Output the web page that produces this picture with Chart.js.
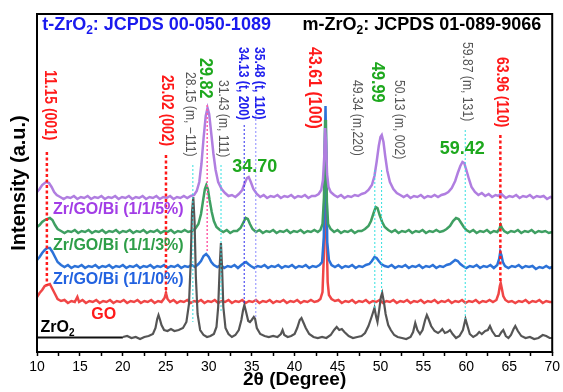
<!DOCTYPE html>
<html>
<head>
<meta charset="utf-8">
<script src="https://cdn.jsdelivr.net/npm/chart.js@4.4.1/dist/chart.umd.min.js"></script>
<style>
  body { margin: 0; background: #fff; }
  #wrap { width: 563px; height: 392px; }
</style>
</head>
<body>
<div id="wrap"><canvas id="xrd" width="563" height="392"></canvas></div>
<script>
// 2theta (deg) vs intensity (a.u., traces already stacked)
const zro2Pad = [[10, 14.5], [20, 14.5]];
const zro2 = [[20,15],[20.5,16],[21,14],[21.5,15],[22,13],[22.5,15],[23,16],[23.5,18],[23.8,24],[24,33],[24.15,37],[24.3,33],[24.5,27],[24.8,22],[25.2,21],[25.6,23],[26,21],[26.5,22],[27,24],[27.4,30],[27.7,48],[27.9,90],[28.05,140],[28.2,155],[28.35,130],[28.5,75],[28.7,38],[29,22],[29.4,17],[29.8,15],[30.2,16],[30.6,18],[30.9,25],[31.1,45],[31.3,90],[31.42,109],[31.55,85],[31.7,45],[31.95,24],[32.3,18],[32.7,15],[33.1,17],[33.5,22],[33.8,32],[34,42],[34.15,47],[34.35,40],[34.6,31],[34.8,30],[35,32],[35.25,35],[35.4,33],[35.6,24],[36,18],[36.5,16],[37,15],[37.5,16],[38,15],[38.4,18],[38.6,22],[38.8,17],[39.2,15],[39.6,16],[40,18],[40.3,24],[40.6,32],[40.8,34],[41,30],[41.3,24],[41.7,18],[42.2,15],[42.7,14],[43.2,15],[43.7,14],[44.2,17],[44.6,22],[44.9,25],[45.2,22],[45.5,23],[45.8,20],[46.3,16],[46.8,14],[47.3,15],[47.8,16],[48.2,19],[48.6,26],[49,36],[49.3,44],[49.5,35],[49.65,30],[49.85,42],[50.05,55],[50.2,59],[50.4,50],[50.6,38],[50.9,27],[51.2,22],[51.6,17],[52,15],[52.5,14],[53,13],[53.5,15],[53.8,20],[54.05,29],[54.3,22],[54.6,18],[54.9,22],[55.2,32],[55.4,37],[55.6,33],[55.9,26],[56.3,21],[56.7,19],[57,21],[57.2,23],[57.5,19],[57.8,20],[58.1,22],[58.4,18],[58.8,14],[59.2,16],[59.6,22],[59.9,33],[60.1,27],[60.4,18],[60.8,15],[61.2,17],[61.5,20],[61.8,18],[62.2,21],[62.5,22],[62.75,26],[63,21],[63.4,16],[63.8,16],[64.1,20],[64.3,22],[64.6,16],[64.9,14],[65.2,17],[65.5,23],[65.7,26],[66,21],[66.4,16],[66.9,14],[67.4,15],[67.9,13],[68.4,14],[68.9,17],[69.3,16],[69.7,14],[70,14]];
const go = [[10,55],[10.3,59],[10.6,62],[10.9,66],[11.2,67],[11.5,68],[11.8,63],[12.1,58],[12.4,53],[12.8,51],[13.2,52],[13.6,49],[14,51],[14.4,50],[14.7,55],[14.9,50],[15.3,52],[15.7,49],[16.1,51],[16.5,50],[16.9,52],[17.3,49],[17.7,51],[18.1,50],[18.5,52],[18.9,49],[19.3,51],[19.7,50],[20.1,52],[20.5,49],[20.9,51],[21.3,50],[21.7,52],[22.1,49],[22.5,51],[22.9,50],[23.3,52],[23.7,49],[24.1,51],[24.5,50],[24.85,54],[25.02,59],[25.2,53],[25.5,50],[25.9,52],[26.3,49],[26.7,51],[27.1,50],[27.5,52],[27.9,49],[28.3,51],[28.7,50],[29.1,52],[29.5,49],[29.9,51],[30.3,50],[30.7,52],[31.1,49],[31.5,51],[31.9,50],[32.3,52],[32.7,49],[33.1,51],[33.5,50],[33.9,52],[34.3,49],[34.7,51],[35.1,50],[35.5,52],[35.9,49],[36.3,51],[36.7,50],[37.1,52],[37.5,49],[37.9,51],[38.3,50],[38.7,52],[39.1,49],[39.5,51],[39.9,50],[40.3,52],[40.7,49],[41.1,51],[41.5,50],[41.9,52],[42.3,50],[42.7,51],[43,53],[43.25,60],[43.42,100],[43.55,175],[43.62,180],[43.72,120],[43.85,70],[44,57],[44.3,53],[44.7,51],[45.1,52],[45.5,49],[45.9,51],[46.3,50],[46.7,52],[47.1,49],[47.5,51],[47.9,50],[48.3,52],[48.7,49],[49.1,51],[49.5,50],[49.9,52],[50.3,49],[50.7,51],[51.1,50],[51.5,52],[51.9,49],[52.3,51],[52.7,50],[53.1,52],[53.5,49],[53.9,51],[54.3,50],[54.7,52],[55.1,49],[55.5,51],[55.9,50],[56.3,52],[56.7,49],[57.1,51],[57.5,50],[57.9,52],[58.3,49],[58.7,51],[59.1,50],[59.5,52],[59.9,49],[60.3,51],[60.7,50],[61.1,52],[61.5,49],[61.9,51],[62.3,50],[62.7,52],[63.1,50],[63.5,52],[63.75,58],[63.9,66],[64,69],[64.12,64],[64.3,56],[64.55,52],[64.9,50],[65.3,51],[65.7,49],[66.1,51],[66.5,50],[66.9,52],[67.3,49],[67.7,51],[68.1,50],[68.5,52],[68.9,49],[69.3,51],[69.7,50],[70,50]];
const bi0 = [[10,92],[10.3,95],[10.6,99],[10.9,102],[11.2,104],[11.5,104],[11.8,100],[12.1,95],[12.4,90],[12.8,87],[13.2,85],[13.6,87],[14,84],[14.4,86],[14.8,85],[15.2,87],[15.6,84],[16,86],[16.4,85],[16.8,87],[17.2,84],[17.6,86],[18,85],[18.4,87],[18.8,84],[19.2,86],[19.6,85],[20,87],[20.4,84],[20.8,86],[21.2,85],[21.6,87],[22,84],[22.4,86],[22.8,85],[23.2,87],[23.6,84],[24,86],[24.4,85],[24.8,87],[25.2,84],[25.6,86],[26,85],[26.4,87],[26.8,84],[27.2,86],[27.6,85],[28,87],[28.4,85],[28.8,88],[29.1,91],[29.4,96],[29.7,98],[30,95],[30.3,90],[30.6,87],[31,85],[31.4,87],[31.8,84],[32.2,86],[32.6,85],[33,87],[33.4,84],[33.8,87],[34.1,89],[34.35,90],[34.6,88],[34.9,86],[35.3,84],[35.7,86],[36.1,85],[36.5,87],[36.9,84],[37.3,86],[37.7,85],[38.1,87],[38.5,84],[38.9,86],[39.3,85],[39.7,87],[40.1,84],[40.5,86],[40.9,85],[41.3,87],[41.7,84],[42.1,86],[42.5,85],[42.9,87],[43.2,90],[43.4,115],[43.52,200],[43.6,246],[43.68,200],[43.8,110],[44,92],[44.3,87],[44.7,85],[45.1,87],[45.5,84],[45.9,86],[46.3,85],[46.7,87],[47.1,84],[47.5,86],[47.9,85],[48.3,87],[48.7,88],[49,91],[49.3,95],[49.55,94],[49.8,91],[50.1,88],[50.5,86],[50.9,85],[51.3,87],[51.7,84],[52.1,86],[52.5,85],[52.9,87],[53.3,84],[53.7,86],[54.1,85],[54.5,87],[54.9,84],[55.3,86],[55.7,85],[56.1,87],[56.5,84],[56.9,86],[57.3,85],[57.7,87],[58.1,88],[58.4,90],[58.7,92],[59,91],[59.3,88],[59.6,86],[60,84],[60.4,86],[60.8,85],[61.2,87],[61.6,84],[62,86],[62.4,85],[62.8,87],[63.2,84],[63.6,87],[63.82,93],[63.95,100],[64.08,97],[64.25,90],[64.5,86],[64.9,84],[65.3,86],[65.7,85],[66.1,87],[66.5,84],[66.9,86],[67.3,85],[67.7,86],[68.1,83],[68.5,85],[68.9,84],[69.3,86],[69.7,84],[70,85]];
const bi3 = [[10,125],[10.3,127],[10.6,130],[10.9,132],[11.2,133],[11.5,134],[11.8,132],[12.1,127],[12.4,123],[12.8,121],[13.2,119],[13.6,121],[14,120],[14.4,122],[14.8,119],[15.2,121],[15.6,120],[16,122],[16.4,119],[16.8,121],[17.2,120],[17.6,122],[18,119],[18.4,121],[18.8,120],[19.2,122],[19.6,119],[20,121],[20.4,120],[20.8,122],[21.2,119],[21.6,121],[22,120],[22.4,122],[22.8,119],[23.2,121],[23.6,120],[24,122],[24.4,119],[24.8,121],[25.2,120],[25.6,122],[26,119],[26.4,121],[26.8,120],[27.2,122],[27.6,120],[28,121],[28.4,123],[28.8,128],[29.1,138],[29.35,152],[29.55,163],[29.72,167],[29.9,163],[30.1,152],[30.35,140],[30.6,131],[30.9,125],[31.3,122],[31.7,120],[32.1,122],[32.5,119],[32.9,121],[33.3,121],[33.7,124],[34,129],[34.3,134],[34.55,133],[34.8,128],[35.1,123],[35.5,120],[35.9,122],[36.3,119],[36.7,121],[37.1,120],[37.5,122],[37.9,119],[38.3,121],[38.7,120],[39.1,122],[39.5,119],[39.9,121],[40.3,120],[40.7,122],[41.1,119],[41.5,121],[41.9,120],[42.3,122],[42.7,120],[43,122],[43.25,128],[43.42,155],[43.55,232],[43.65,225],[43.76,150],[43.9,128],[44.2,123],[44.6,120],[45,122],[45.4,119],[45.8,121],[46.2,120],[46.6,122],[47,119],[47.4,121],[47.8,121],[48.2,123],[48.6,126],[48.9,131],[49.2,139],[49.45,145],[49.65,144],[49.9,137],[50.2,130],[50.5,125],[50.9,122],[51.3,120],[51.7,122],[52.1,119],[52.5,121],[52.9,120],[53.3,122],[53.7,119],[54.1,121],[54.5,120],[54.9,122],[55.3,119],[55.7,121],[56.1,120],[56.5,122],[56.9,120],[57.3,121],[57.7,123],[58.1,126],[58.45,131],[58.8,134],[59.1,133],[59.4,129],[59.7,125],[60,122],[60.4,120],[60.8,122],[61.2,119],[61.6,121],[62,120],[62.4,122],[62.8,119],[63.2,121],[63.6,120],[63.85,123],[64,127],[64.15,124],[64.4,121],[64.8,119],[65.2,121],[65.6,120],[66,122],[66.4,119],[66.8,121],[67.2,120],[67.6,122],[68,119],[68.4,121],[68.8,120],[69.2,121],[69.6,119],[70,120]];
const bi5 = [[10,160],[10.3,163],[10.6,167],[10.9,169],[11.1,170],[11.4,169],[11.7,165],[12,160],[12.3,157],[12.7,155],[13.1,153],[13.5,155],[13.9,154],[14.3,156],[14.7,153],[15.1,155],[15.5,154],[15.9,156],[16.3,153],[16.7,155],[17.1,154],[17.5,156],[17.9,153],[18.3,155],[18.7,154],[19.1,156],[19.5,153],[19.9,155],[20.3,154],[20.7,156],[21.1,153],[21.5,155],[21.9,154],[22.3,156],[22.7,153],[23.1,155],[23.5,154],[23.9,156],[24.3,153],[24.7,155],[25.1,154],[25.5,156],[25.9,153],[26.3,155],[26.7,154],[27.1,156],[27.5,154],[27.9,156],[28.3,157],[28.6,161],[28.9,170],[29.15,188],[29.4,214],[29.65,236],[29.86,244],[30.05,238],[30.3,218],[30.55,198],[30.8,182],[31.1,170],[31.5,163],[31.9,159],[32.3,156],[32.7,157],[33.1,155],[33.5,158],[33.9,162],[34.2,169],[34.45,174],[34.65,175],[34.9,170],[35.2,163],[35.6,158],[36,155],[36.4,157],[36.8,154],[37.2,156],[37.6,155],[38,157],[38.4,154],[38.8,156],[39.2,155],[39.6,157],[40,154],[40.4,156],[40.8,155],[41.2,157],[41.6,154],[42,156],[42.4,156],[42.8,158],[43.1,162],[43.3,172],[43.45,195],[43.56,224],[43.66,210],[43.78,178],[43.95,165],[44.2,160],[44.6,157],[45,155],[45.4,157],[45.8,154],[46.2,156],[46.6,155],[47,157],[47.4,156],[47.8,158],[48.2,159],[48.6,162],[49,167],[49.3,176],[49.55,190],[49.8,206],[50,215],[50.15,217],[50.35,210],[50.55,196],[50.8,181],[51.1,170],[51.5,163],[51.9,159],[52.3,157],[52.7,155],[53.1,157],[53.5,154],[53.9,156],[54.3,155],[54.7,157],[55.1,154],[55.5,156],[55.9,155],[56.3,157],[56.7,155],[57.1,157],[57.5,158],[57.9,160],[58.3,164],[58.7,171],[59,179],[59.3,186],[59.55,190],[59.75,189],[60,182],[60.3,173],[60.6,165],[61,160],[61.4,157],[61.8,159],[62.2,156],[62.6,158],[63,155],[63.4,157],[63.8,156],[64,159],[64.2,157],[64.6,154],[65,156],[65.4,155],[65.8,157],[66.2,154],[66.6,156],[67,155],[67.4,157],[67.8,154],[68.2,156],[68.6,155],[69,156],[69.4,153],[69.8,155],[70,154]];

// reference lines: 2theta, lower / upper end (a.u.), kind
const refAt   = [11.15, 25.02, 28.15, 29.82, 31.43, 34.13, 35.48, 49.34, 50.13, 59.87, 63.96];
const refFrom = [67, 59, 30, 100, 40, 47, 35, 44, 59, 33, 69];
const refTo   = [200, 197, 187, 247, 187, 227, 237, 182, 182, 222, 217];
const refKind = ['go', 'go', 'm', 'pk', 'm', 't', 't2', 'm', 'm', 'm', 'go'];

// rotated peak labels
const peakLabels = ['11.15 (001)', '25.02 (002)', '28.15 (m, \u2212111)', '29.82', '31.43 (m, 111)', '34.13 (t, 200)', '35.48 (t, 110)', '43.61 (100)', '49.34 (m,220)', '49.99', '50.13 (m, 002)', '59.87 (m, 131)', '63.96 (110)'];
const peakLabelAt  = [11.45, 25.03, 27.82, 29.6, 31.6, 34.0, 35.87, 42.25, 47.28, 49.6, 52.13, 60.06, 64.12];
const peakLabelTop = [282, 277, 280, 294, 272, 305, 305, 305, 272, 290, 272, 310, 295];
const peakLabelKind = ['go', 'go', 'm', 'fit', 'm', 't', 't', 'big', 'm', 'fit', 'm', 'm', 'go'];

// horizontal fitted-peak labels
const fitLabels = ['34.70', '59.42'];
const fitAt = [35.37, 59.52];
const fitV = [185, 203];

const seriesNames = ['Zr/GO/Bi (1/1/5%)', 'Zr/GO/Bi (1/1/3%)', 'Zr/GO/Bi (1/1/0%)', 'GO', 'ZrO\u2082'];
const nameAt = [11.86, 11.86, 11.86, 16.32, 10.4];
const nameV = [142, 106, 72, 37, 24];

const headers = ['t-ZrO\u2082: JCPDS 00-050-1089', 'm-ZrO\u2082: JCPDS 01-089-9066'];
const headerAt = [10.6, 40.93];
const headerV = [327, 327];

const FONT = '"Liberation Sans", Arial, sans-serif';

const lineStyle = {
  go: { color: '#ff1a1a', width: 2.5, dash: [3, 2.5] },
  m:  { color: '#33e0e0', width: 1, dash: [2, 2] },
  pk: { color: '#ff5fa8', width: 1.5, dash: [2, 2] },
  t:  { color: '#2a2aee', width: 1, dash: [2, 2] },
  t2: { color: '#8a8aff', width: 1, dash: [2, 2] }
};
const textStyle = {
  go:  { font: 'bold 16px ' + FONT, color: '#ff1a1a', squeeze: 0.87 },
  big: { font: 'bold 18px ' + FONT, color: '#ff1a1a', squeeze: 0.89 },
  m:   { font: '14px ' + FONT, color: '#555555', squeeze: 0.87 },
  t:   { font: 'bold 14px ' + FONT, color: '#2020ee', squeeze: 0.87 },
  fit: { font: 'bold 18px ' + FONT, color: '#1ea81e', squeeze: 0.9 }
};
const nameColors = ['#a23de6', '#2e9e48', '#2262e0', '#ff1a1a', '#000000'];
const headerColors = ['#1a1aee', '#000000'];

function drawRich(ctx, text, x, y, size, color) {
  // draws text with ₂ as a subscript
  ctx.fillStyle = color;
  ctx.textBaseline = 'middle';
  ctx.textAlign = 'left';
  const parts = text.split('\u2082');
  let cx = x;
  parts.forEach((p, i) => {
    ctx.font = 'bold ' + size + 'px ' + FONT;
    ctx.fillText(p, cx, y);
    cx += ctx.measureText(p).width;
    if (i < parts.length - 1) {
      ctx.font = 'bold ' + Math.round(size * 0.65) + 'px ' + FONT;
      ctx.fillText('2', cx, y + size * 0.3);
      cx += ctx.measureText('2').width;
    }
  });
}

const overlay = {
  id: 'overlay',
  afterDatasetsDraw(chart) {
    const ctx = chart.ctx;
    const xs = chart.scales.x, ys = chart.scales.y;
    ctx.save();
    refAt.forEach((deg, i) => {
      const st = lineStyle[refKind[i]];
      const X = xs.getPixelForValue(deg);
      ctx.beginPath();
      ctx.strokeStyle = st.color;
      ctx.lineWidth = st.width;
      ctx.setLineDash(st.dash);
      ctx.moveTo(X, ys.getPixelForValue(refTo[i]));
      ctx.lineTo(X, ys.getPixelForValue(refFrom[i]));
      ctx.stroke();
    });
    ctx.setLineDash([]);

    peakLabels.forEach((t, i) => {
      const st = textStyle[peakLabelKind[i]];
      ctx.save();
      ctx.translate(xs.getPixelForValue(peakLabelAt[i]), ys.getPixelForValue(peakLabelTop[i]));
      ctx.rotate(Math.PI / 2);
      ctx.scale(st.squeeze, 1);
      ctx.font = st.font;
      ctx.fillStyle = st.color;
      ctx.textAlign = 'left';
      ctx.textBaseline = 'middle';
      ctx.fillText(t, 0, 0);
      ctx.restore();
    });

    fitLabels.forEach((t, i) => {
      ctx.font = textStyle.fit.font;
      ctx.fillStyle = textStyle.fit.color;
      ctx.textAlign = 'center';
      ctx.textBaseline = 'middle';
      ctx.fillText(t, xs.getPixelForValue(fitAt[i]), ys.getPixelForValue(fitV[i]));
    });

    seriesNames.forEach((t, i) => {
      drawRich(ctx, t, xs.getPixelForValue(nameAt[i]), ys.getPixelForValue(nameV[i]), 16, nameColors[i]);
    });
    headers.forEach((t, i) => {
      drawRich(ctx, t, xs.getPixelForValue(headerAt[i]), ys.getPixelForValue(headerV[i]), 18, headerColors[i]);
    });

    // frame
    const a = chart.chartArea;
    ctx.strokeStyle = '#000';
    ctx.lineWidth = 2;
    ctx.strokeRect(a.left, a.top, a.right - a.left, a.bottom - a.top);
    ctx.restore();
  }
};

function trace(data, color, width) {
  return { data: data, borderColor: color, borderWidth: width, pointRadius: 0, tension: 0, fill: false };
}

new Chart(document.getElementById('xrd').getContext('2d'), {
  type: 'line',
  data: {
    datasets: [
      trace(zro2, '#555555', 2.2),
      trace(zro2Pad, '#111111', 2.2),
      trace(bi5, '#b07ee0', 2.5),
      trace(bi3, '#3f9f62', 2.5),
      trace(bi0, '#2c72d8', 2.5),
      trace(go, '#f04646', 2.5)
    ]
  },
  options: {
    responsive: false,
    animation: false,
    layout: { padding: { top: 14, right: 9, left: 0, bottom: 0 } },
    plugins: { legend: { display: false }, tooltip: { enabled: false } },
    scales: {
      x: {
        type: 'linear',
        min: 10,
        max: 70,
        afterFit(scale) { scale.height = 40; },
        border: { display: false },
        grid: {
          display: true,
          drawOnChartArea: false,
          drawTicks: true,
          tickLength: 4,
          tickColor: '#000',
          tickWidth: 1.5
        },
        ticks: {
          stepSize: 2.5,
          autoSkip: false,
          maxRotation: 0,
          padding: 3,
          color: '#000',
          font: { family: FONT, size: 14 },
          callback: v => (v % 5 === 0 ? v : '')
        },
        title: {
          display: true,
          text: '2\u03b8 (Degree)',
          color: '#000',
          font: { family: FONT, size: 19, weight: 'bold' },
          padding: { top: 0, bottom: 1 }
        }
      },
      y: {
        min: 0,
        max: 338,
        afterFit(scale) { scale.width = 37; },
        border: { display: false },
        grid: { display: false },
        ticks: { display: false },
        title: {
          display: true,
          text: 'Intensity (a.u.)',
          color: '#000',
          font: { family: FONT, size: 20, weight: 'bold' },
          padding: { top: 7, bottom: 0 }
        }
      }
    }
  },
  plugins: [overlay]
});
</script>
</body>
</html>
